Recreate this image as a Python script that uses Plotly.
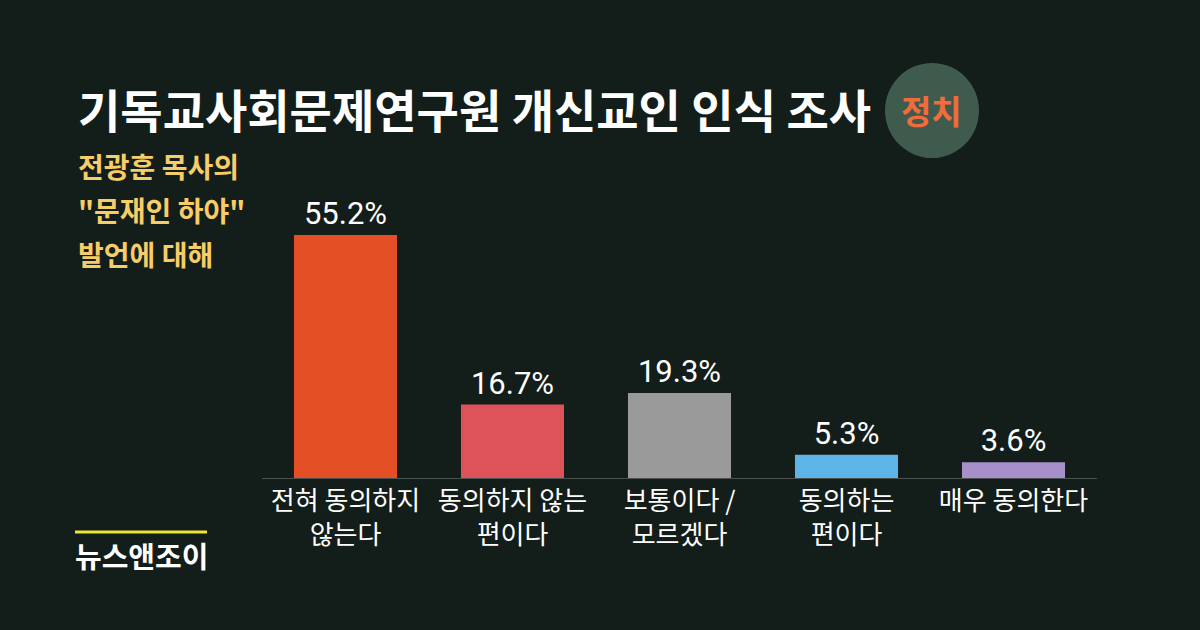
import plotly.graph_objects as go

# Survey responses on the statement
categories = ["전혀 동의하지<br>않는다", "동의하지 않는<br>편이다", "보통이다 /<br>모르겠다", "동의하는<br>편이다", "매우 동의한다"]
values = [55.2, 16.7, 19.3, 5.3, 3.6]
bar_colors = ["#e44f26", "#de525a", "#9a9a9a", "#5cb5e6", "#a78fc9"]

title_text = "기독교사회문제연구원 개신교인 인식 조사"
badge_text = "정치"
subtitle_lines = ["전광훈 목사의", "\"문재인 하야\"", "발언에 대해"]
brand_text = "뉴스앤조이"

BG = "#131d19"
KR = "Noto Sans CJK KR"

fig = go.Figure(
    go.Bar(
        x=list(range(len(categories))),
        y=values,
        marker=dict(color=bar_colors, line=dict(width=0)),
        width=0.617,
        text=[f"{v:.1f}%" for v in values],
        textposition="outside",
        textfont=dict(family="Roboto, " + KR, size=31, color="#ffffff"),
        cliponaxis=False,
        hoverinfo="skip",
    )
)

fig.update_layout(
    width=1200,
    height=630,
    paper_bgcolor=BG,
    plot_bgcolor=BG,
    margin=dict(l=262, r=103, t=214, b=152),
    showlegend=False,
    bargap=0.383,
    font=dict(family=KR, color="#ffffff"),
    xaxis=dict(
        range=[-0.5, 4.5],
        tickmode="array",
        tickvals=list(range(len(categories))),
        ticktext=categories,
        tickfont=dict(family=KR, size=26, color="#ffffff"),
        showgrid=False,
        zeroline=False,
        showline=True,
        linecolor="#4a514e",
        linewidth=1,
        ticks="",
        fixedrange=True,
    ),
    yaxis=dict(
        range=[0, 60],
        showgrid=False,
        zeroline=False,
        showticklabels=False,
        showline=False,
        fixedrange=True,
    ),
)

# Title
fig.add_annotation(
    text=f"<b>{title_text}</b>", xref="paper", yref="paper",
    x=(76 - 262) / 835, y=(630 - 108 - 152) / 264,
    xanchor="left", yanchor="middle", showarrow=False,
    font=dict(family=KR, size=46, color="#ffffff"),
)

# Category badge
fig.add_shape(
    type="circle", xref="paper", yref="paper",
    x0=(885 - 262) / 835, x1=(979 - 262) / 835,
    y0=(630 - 158 - 152) / 264, y1=(630 - 63 - 152) / 264,
    fillcolor="#3f5b4d", line=dict(width=0), layer="below",
)
fig.add_annotation(
    text=f"<b>{badge_text}</b>", xref="paper", yref="paper",
    x=(931 - 262) / 835, y=(630 - 110 - 152) / 264,
    xanchor="center", yanchor="middle", showarrow=False,
    font=dict(family=KR, size=33, color="#f26b3a"),
)

# Subtitle
for i, line in enumerate(subtitle_lines):
    fig.add_annotation(
        text=f"<b>{line}</b>", xref="paper", yref="paper",
        x=(76 - 262) / 835, y=(630 - (166 + 44 * i) - 152) / 264,
        xanchor="left", yanchor="middle", showarrow=False,
        font=dict(family=KR, size=28, color="#f6cd67"),
    )

# Brand mark
fig.add_shape(
    type="line", xref="paper", yref="paper",
    x0=(75 - 262) / 835, x1=(207 - 262) / 835,
    y0=(630 - 532 - 152) / 264, y1=(630 - 532 - 152) / 264,
    line=dict(color="#ede43a", width=3),
)
fig.add_annotation(
    text=f"<b>{brand_text}</b>", xref="paper", yref="paper",
    x=(73 - 262) / 835, y=(630 - 555 - 152) / 264,
    xanchor="left", yanchor="middle", showarrow=False,
    font=dict(family=KR, size=29, color="#ffffff"),
)

fig.write_html("out.html")
